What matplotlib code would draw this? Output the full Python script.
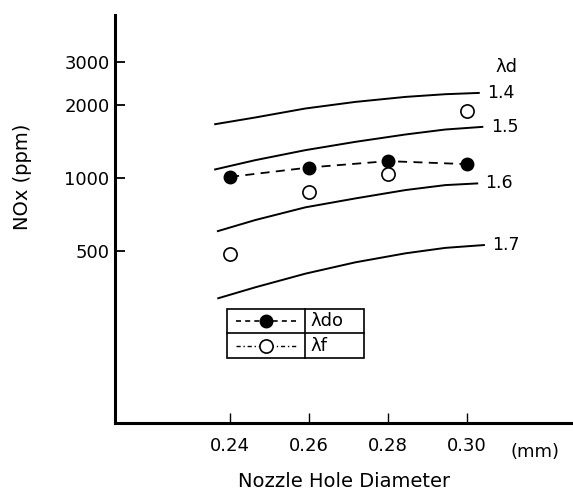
import matplotlib.pyplot as plt
from matplotlib.lines import Line2D
from matplotlib.patches import Rectangle

# NOx vs nozzle hole diameter, constant lambda-d curves (log y)
curve_labels = ['1.4', '1.5', '1.6', '1.7']
curve_x = [
    [0.2362, 0.2464, 0.2591, 0.2718, 0.2845, 0.2946, 0.3031],
    [0.2362, 0.2464, 0.2591, 0.2718, 0.2845, 0.2946, 0.3040],
    [0.2369, 0.2464, 0.2591, 0.2718, 0.2845, 0.2946, 0.3027],
    [0.2370, 0.2464, 0.2591, 0.2718, 0.2845, 0.2946, 0.3044],
]
curve_y = [
    [1668, 1778, 1936, 2061, 2161, 2217, 2244],
    [1086, 1186, 1304, 1411, 1513, 1586, 1626],
    [605, 672, 758, 825, 893, 936, 951],
    [320, 355, 404, 450, 490, 516, 530],
]

diam = [0.24, 0.26, 0.28, 0.30]
nox_ldo = [1012, 1106, 1175, 1142]
nox_lf = [487, 878, 1038, 1886]

yticks = [500, 1000, 2000, 3000]
xticks = [0.24, 0.26, 0.28, 0.30]

plt.rcParams['font.family'] = 'DejaVu Sans'

fig = plt.figure(figsize=(5.73, 4.95), dpi=100)
ax = fig.add_axes([0.2007, 0.1455, 0.7993, 0.8242])

for xs, ys, lab in zip(curve_x, curve_y, curve_labels):
    ax.plot(xs, ys, color='black', lw=1.4)
    ax.annotate(lab, xy=(xs[-1], ys[-1]), xytext=(6, 0), textcoords='offset points',
                ha='left', va='center', fontsize=12.5)

ax.annotate('λd', xy=(curve_x[0][-1], curve_y[0][-1]), xytext=(12, 19),
            textcoords='offset points', ha='left', va='center', fontsize=13)

ax.plot(diam, nox_ldo, color='black', lw=1.3, ls=(0, (5, 3.5)),
        marker='o', ms=9, mfc='black', mec='black')
ax.plot(diam, nox_lf, ls='none', marker='o', ms=9.5, mfc='white', mec='black', mew=1.2)

ax.set_yscale('log')
ax.set_ylim(98, 4700)
ax.set_xlim(0.2108, 0.327)
ax.set_yticks(yticks)
ax.set_yticklabels([str(t) for t in yticks])
ax.minorticks_off()
ax.set_xticks(xticks)
ax.set_xticklabels(['%.2f' % t for t in xticks])

ax.tick_params(axis='y', direction='in', length=7, width=1.3, pad=4, labelsize=13)
ax.tick_params(axis='x', direction='in', length=7, width=1.0, pad=10, labelsize=13)

for side in ['top', 'right']:
    ax.spines[side].set_visible(False)
for side in ['left', 'bottom']:
    ax.spines[side].set_linewidth(2.2)

ax.set_xlabel('Nozzle Hole Diameter', fontsize=14, labelpad=12)
ax.set_ylabel('NOx (ppm)', fontsize=14)
ax.yaxis.set_label_coords(-0.182, 0.603)
ax.text(0.917, -0.071, '(mm)', transform=ax.transAxes, ha='center', va='center', fontsize=13)

# table-style legend
x0, x1, xm = 0.244, 0.544, 0.415
y0, y1, ym = 0.159, 0.279, 0.22
ax.add_patch(Rectangle((x0, y0), x1 - x0, y1 - y0, transform=ax.transAxes,
                       fill=False, lw=1.2, ec='black'))
ax.add_line(Line2D([x0, x1], [ym, ym], transform=ax.transAxes, color='black', lw=1.2))
ax.add_line(Line2D([xm, xm], [y0, y1], transform=ax.transAxes, color='black', lw=1.2))
r1 = (y1 + ym) / 2
r2 = (ym + y0) / 2
xc = (x0 + xm) / 2
ax.add_line(Line2D([x0 + 0.02, xm - 0.02], [r1, r1], transform=ax.transAxes, color='black',
                   lw=1.2, ls=(0, (3, 2.5))))
ax.add_line(Line2D([xc], [r1], transform=ax.transAxes, color='none',
                   marker='o', ms=9, mfc='black', mec='black'))
ax.add_line(Line2D([x0 + 0.02, xm - 0.02], [r2, r2], transform=ax.transAxes, color='black',
                   lw=1.0, ls=(0, (3, 2, 1, 2))))
ax.add_line(Line2D([xc], [r2], transform=ax.transAxes, color='none',
                   marker='o', ms=9.5, mfc='white', mec='black', mew=1.2))
ax.text(xm + 0.012, r1, 'λdo', transform=ax.transAxes, ha='left', va='center', fontsize=13)
ax.text(xm + 0.012, r2, 'λf', transform=ax.transAxes, ha='left', va='center', fontsize=13)

fig.savefig('out.png', dpi=100)
